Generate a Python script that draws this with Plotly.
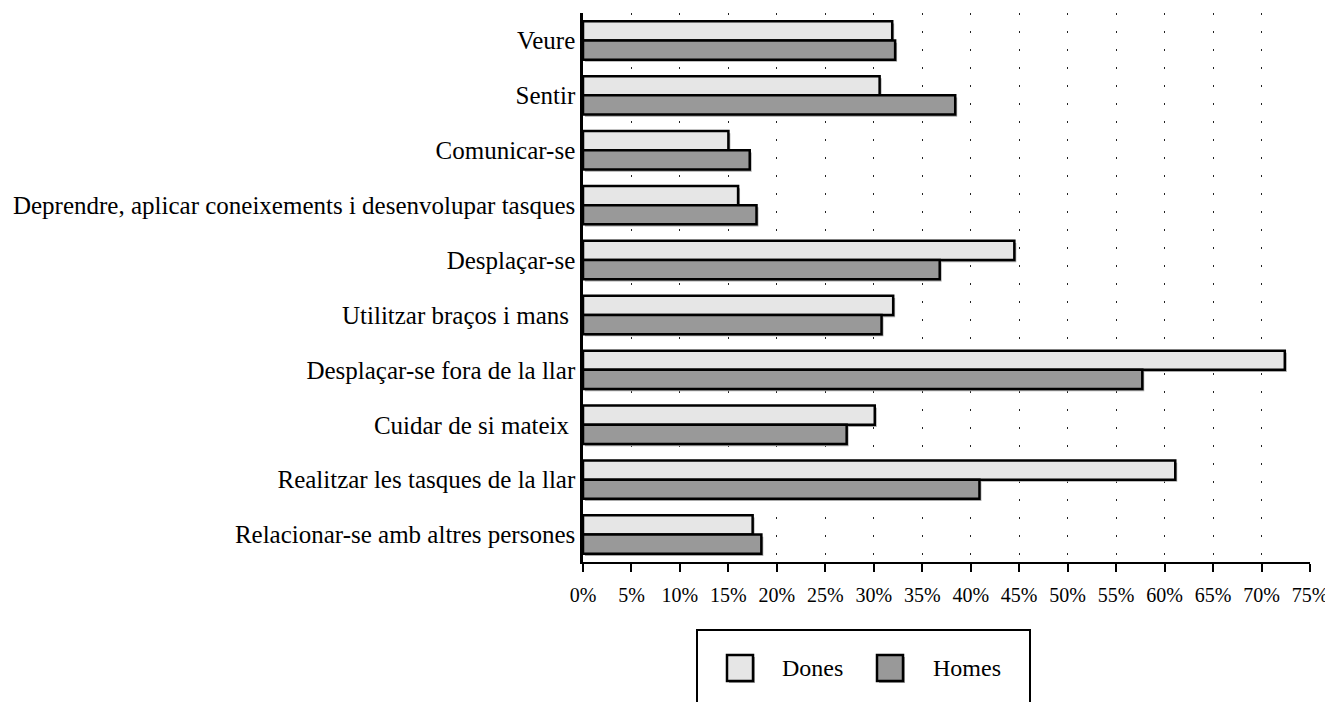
"""Limitacions per tipus d'activitat, dones i homes."""

import plotly.graph_objects as go

categories = [
    "Veure",
    "Sentir",
    "Comunicar-se",
    "Deprendre, aplicar coneixements i desenvolupar tasques",
    "Desplaçar-se",
    "Utilitzar braços i mans\u00a0",
    "Desplaçar-se fora de la llar",
    "Cuidar de si mateix\u00a0",
    "Realitzar les tasques de la llar",
    "Relacionar-se amb altres persones",
]
dones = [31.9, 30.6, 15.0, 16.0, 44.5, 32.0, 72.4, 30.1, 61.1, 17.5]
homes = [32.2, 38.4, 17.2, 17.9, 36.8, 30.8, 57.7, 27.2, 40.9, 18.4]
tick_vals = list(range(0, 80, 5))
tick_text = [f"{v}%" for v in tick_vals]

# page body has an 8px margin, so the figure starts at (8, 8) on screen
PAGE = 8
W, H = 1333 - PAGE, 702 - PAGE
M_L, M_R, M_T, M_B = 583 - PAGE, 23, 13 - PAGE, 140
PW, PH = W - M_L - M_R, H - M_T - M_B

FONT = "Liberation Serif, Times New Roman, serif"
DONES_FILL = "#e6e6e6"
HOMES_FILL = "#999999"
SHADOW = "#a8a8a8"
BAR_W = 0.35
SHADOW_DX = 0.2     # ~2px in % units
SHADOW_DY = 0.04    # ~2px in category units


def px_x(p):
    # screen px -> paper fraction
    return (p - PAGE - M_L) / PW


def px_y(p):
    return (H - M_B - (p - PAGE)) / PH


fig = go.Figure()

# drop shadows first, then the bars on top
for vals, off in [(dones, -BAR_W), (homes, 0.0)]:
    fig.add_trace(go.Bar(
        y=categories, x=vals, base=SHADOW_DX, orientation="h",
        width=BAR_W, offset=off + SHADOW_DY,
        marker=dict(color=SHADOW, line=dict(width=0)),
        showlegend=False, hoverinfo="skip",
    ))

for name, vals, fill, off in [("Dones", dones, DONES_FILL, -BAR_W),
                              ("Homes", homes, HOMES_FILL, 0.0)]:
    fig.add_trace(go.Bar(
        y=categories, x=vals, name=name, orientation="h",
        width=BAR_W, offset=off,
        marker=dict(color=fill, line=dict(color="black", width=2.5)),
        showlegend=False,
    ))

fig.update_layout(
    width=W, height=H,
    barmode="overlay",
    paper_bgcolor="white", plot_bgcolor="white",
    margin=dict(l=M_L, r=M_R, t=M_T, b=M_B, autoexpand=False),
    font=dict(family=FONT, color="black"),
    xaxis=dict(
        range=[0, 75], tickvals=tick_vals, ticktext=tick_text,
        showgrid=True, gridcolor="#222222", gridwidth=1, griddash="2px,16px",
        showline=True, linecolor="black", linewidth=2,
        ticks="outside", ticklen=8, tickwidth=1.5, tickcolor="black",
        tickfont=dict(size=20), zeroline=False, ticklabelstandoff=6,
    ),
    yaxis=dict(
        categoryorder="array", categoryarray=categories,
        range=[len(categories) - 0.5, -0.5],
        showline=True, linecolor="black", linewidth=2.5,
        ticks="", showgrid=False, zeroline=False,
        tickfont=dict(size=25), ticklabelstandoff=0,
    ),
)

# legend box drawn by hand (large square keys)
fig.add_shape(type="rect", xref="paper", yref="paper",
              x0=px_x(697), x1=px_x(1030), y0=px_y(630), y1=px_y(740),
              line=dict(color="black", width=2), fillcolor="white", layer="above")
for name, fill, sq_left, txt_left in [("Dones", DONES_FILL, 727, 780),
                                      ("Homes", HOMES_FILL, 877, 931)]:
    fig.add_shape(type="rect", xref="paper", yref="paper",
                  x0=px_x(sq_left + 2), x1=px_x(sq_left + 28),
                  y0=px_y(657), y1=px_y(683),
                  line=dict(width=0), fillcolor=SHADOW, layer="above")
    fig.add_shape(type="rect", xref="paper", yref="paper",
                  x0=px_x(sq_left), x1=px_x(sq_left + 26),
                  y0=px_y(655), y1=px_y(681),
                  line=dict(color="black", width=2.5), fillcolor=fill, layer="above")
    fig.add_annotation(text=name, xref="paper", yref="paper",
                       x=px_x(txt_left), y=px_y(668), xanchor="left", yanchor="middle",
                       showarrow=False, font=dict(size=24, family=FONT, color="black"))

fig.write_html("out.html")
